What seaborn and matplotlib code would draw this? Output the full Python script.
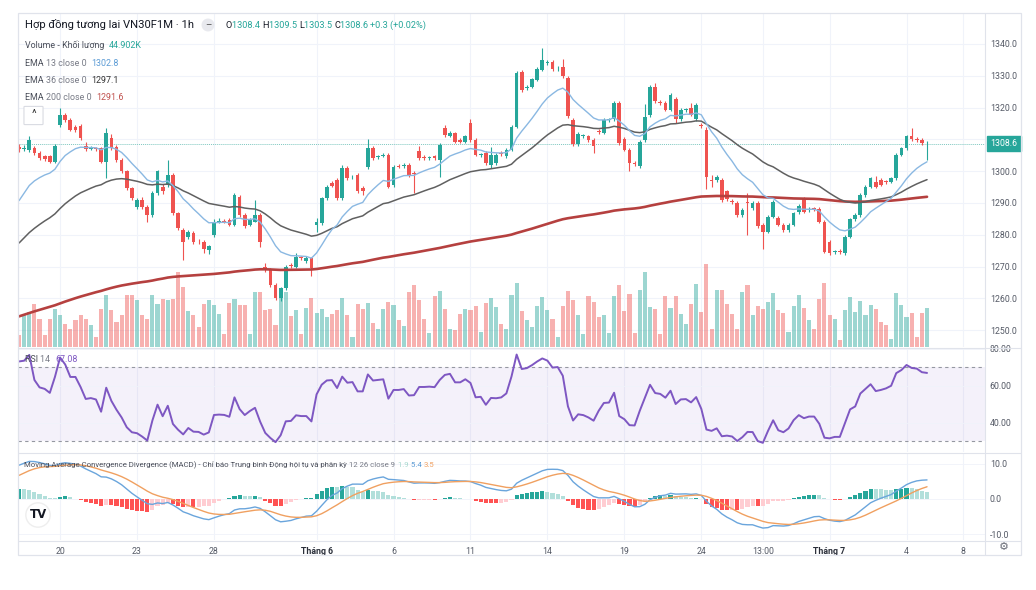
import numpy as np
import pandas as pd
import matplotlib
matplotlib.use("Agg")
import matplotlib.pyplot as plt
import seaborn as sns
from matplotlib.patches import Rectangle, FancyBboxPatch
from matplotlib.lines import Line2D

# ---------------- data ----------------
opens = [1307.5,1307.0,1306.7,1307.2,1305.6,1304.6,1304.6,1303.0,1314.5,1317.7,
         1316.1,1314.0,1314.2,1307.9,1307.0,1307.2,1307.2,1303.0,1310.4,1307.7,
         1303.5,1299.9,1294.6,1288.8,1290.9,1288.8,1286.2,1293.0,1295.1,1295.7,
         1298.8,1286.8,1281.5,1279.4,1280.5,1277.8,1277.8,1275.2,1280.0,1284.1,
         1284.3,1284.7,1283.1,1292.0,1286.2,1283.1,1284.1,1286.2,1270.0,1268.9,
         1264.2,1260.0,1263.1,1270.5,1270.0,1272.9,1271.8,1272.6,1283.1,1283.6,
         1291.5,1296.4,1297.2,1291.5,1300.9,1298.0,1298.8,1294.6,1301.4,1307.2,
         1304.3,1304.9,1305.1,1295.7,1301.6,1301.6,1302.0,1299.3,1306.2,1304.3,
         1304.1,1304.6,1303.5,1313.5,1311.1,1311.9,1309.8,1309.3,1315.1,1309.8,
         1305.0,1305.6,1302.0,1302.5,1305.6,1304.6,1306.7,1314.0,1331.3,1326.1,
         1326.6,1328.7,1331.9,1334.0,1334.2,1332.3,1332.7,1329.2,1316.1,1308.6,
         1311.0,1310.9,1309.8,1312.6,1312.1,1316.1,1316.3,1321.4,1310.0,1306.7,
         1302.5,1301.6,1309.8,1317.7,1326.6,1321.8,1321.4,1319.3,1322.6,1316.3,
         1319.3,1319.8,1316.3,1314.5,1313.0,1297.2,1297.2,1297.2,1293.6,1290.6,
         1290.1,1286.2,1290.2,1288.3,1289.9,1283.1,1281.0,1285.7,1285.2,1283.1,
         1281.5,1283.1,1287.0,1291.2,1287.8,1288.1,1288.0,1284.1,1277.8,1274.5,
         1274.9,1274.2,1279.4,1284.9,1286.2,1292.5,1295.1,1296.7,1297.2,1296.7,
         1296.7,1297.8,1305.1,1307.2,1310.9,1310.0,1309.8,1308.4]
highs = [1308.5,1308.2,1311.0,1307.8,1306.2,1305.2,1305.1,1308.4,1319.8,1318.3,
         1316.6,1314.6,1314.8,1309.2,1307.8,1307.7,1307.7,1313.4,1311.7,1308.2,
         1304.0,1300.4,1295.1,1291.5,1291.8,1289.4,1293.6,1300.5,1295.8,1303.5,
         1299.4,1287.3,1282.2,1281.6,1281.2,1278.6,1278.4,1276.8,1284.8,1285.2,
         1284.9,1285.3,1293.2,1292.6,1286.8,1285.2,1291.0,1286.8,1271.0,1269.4,
         1264.7,1263.6,1270.6,1271.0,1274.3,1273.4,1273.2,1273.1,1285.2,1292.0,
         1295.7,1297.0,1297.8,1302.0,1301.5,1298.8,1299.4,1295.2,1310.0,1307.8,
         1305.0,1305.6,1305.7,1302.0,1302.2,1302.6,1302.6,1299.9,1308.0,1305.0,
         1304.8,1305.2,1308.8,1314.6,1312.6,1312.4,1310.4,1311.4,1316.5,1310.4,
         1305.8,1306.2,1307.5,1305.6,1306.2,1307.2,1314.5,1331.5,1331.9,1327.0,
         1329.4,1332.6,1338.6,1335.0,1334.8,1333.0,1335.4,1329.8,1316.7,1312.2,
         1311.8,1311.5,1310.4,1313.2,1316.6,1316.8,1322.0,1322.0,1310.6,1307.3,
         1303.2,1309.8,1321.0,1327.2,1327.6,1322.4,1322.0,1324.6,1323.2,1319.8,
         1320.0,1321.4,1321.4,1315.2,1314.0,1298.7,1298.8,1297.8,1294.2,1291.2,
         1290.7,1288.4,1293.0,1290.5,1290.5,1283.7,1286.2,1291.0,1285.8,1283.7,
         1283.6,1287.3,1289.6,1291.8,1288.6,1288.8,1288.6,1284.7,1278.4,1275.2,
         1275.4,1279.9,1285.4,1286.7,1293.0,1295.6,1298.3,1298.4,1297.8,1297.3,
         1298.3,1305.6,1307.7,1311.4,1313.5,1310.8,1310.5,1309.5]
lows = [1306.0,1306.3,1306.0,1305.0,1303.6,1303.2,1302.5,1302.6,1314.0,1315.5,
        1312.5,1312.4,1309.8,1306.4,1306.5,1306.3,1302.5,1297.8,1306.6,1303.0,
        1299.4,1294.0,1290.9,1288.0,1288.2,1284.0,1285.6,1292.5,1292.8,1295.0,
        1286.2,1281.4,1272.0,1278.8,1277.2,1277.0,1274.2,1273.8,1279.4,1283.6,
        1283.6,1282.6,1282.6,1285.6,1282.0,1282.6,1284.1,1276.2,1268.4,1263.6,
        1259.5,1259.2,1262.6,1269.4,1269.5,1272.0,1271.0,1267.0,1281.0,1283.0,
        1291.0,1295.0,1290.9,1291.0,1297.2,1297.4,1293.0,1292.4,1300.8,1303.6,
        1303.8,1304.4,1294.6,1295.1,1300.9,1301.0,1298.3,1293.0,1303.6,1303.6,
        1303.5,1303.6,1298.0,1310.8,1310.6,1308.8,1308.8,1308.8,1309.2,1304.6,
        1304.4,1302.0,1300.9,1302.0,1304.8,1304.1,1306.2,1313.5,1325.0,1325.5,
        1326.0,1328.2,1331.4,1333.4,1331.6,1331.6,1329.3,1316.6,1308.0,1308.0,
        1310.4,1309.2,1305.8,1311.8,1311.6,1315.5,1315.8,1308.2,1306.2,1300.0,
        1301.6,1301.0,1309.2,1317.0,1321.4,1320.8,1318.8,1318.8,1315.0,1315.8,
        1318.6,1317.2,1315.8,1313.4,1294.5,1295.0,1296.6,1290.4,1290.6,1289.6,
        1285.6,1285.6,1280.0,1287.8,1282.0,1275.4,1280.4,1285.2,1282.6,1281.0,
        1281.0,1282.6,1286.5,1286.8,1287.2,1287.4,1283.6,1274.2,1273.6,1273.9,
        1274.0,1273.6,1278.9,1284.4,1285.7,1292.0,1294.6,1294.6,1295.2,1296.0,
        1296.2,1297.3,1304.6,1306.7,1309.5,1309.2,1308.3,1303.5]
closes = [1307.0,1307.3,1309.8,1305.6,1304.1,1303.8,1303.0,1307.9,1317.7,1316.1,
          1313.0,1313.0,1310.4,1306.9,1307.2,1306.8,1303.0,1311.9,1307.2,1303.5,
          1299.9,1294.6,1291.5,1290.9,1288.8,1286.2,1293.0,1299.9,1293.6,1298.8,
          1286.8,1282.0,1277.8,1280.9,1277.8,1277.6,1275.4,1276.3,1284.1,1284.3,
          1284.1,1283.1,1292.5,1286.2,1282.6,1284.6,1286.2,1277.8,1268.9,1264.2,
          1260.0,1263.1,1270.0,1270.2,1273.1,1272.6,1272.6,1269.4,1284.1,1291.5,
          1295.1,1295.4,1291.5,1300.9,1297.8,1298.3,1293.6,1293.6,1307.2,1304.1,
          1304.6,1305.1,1295.1,1301.4,1301.4,1302.0,1298.8,1299.0,1304.1,1304.1,
          1304.3,1304.1,1308.2,1311.4,1312.1,1309.3,1309.3,1310.9,1309.8,1305.1,
          1305.3,1302.5,1305.1,1305.0,1305.3,1306.7,1314.0,1330.8,1325.6,1326.4,
          1328.9,1332.1,1335.0,1334.3,1332.1,1332.5,1329.8,1317.2,1308.6,1311.7,
          1311.2,1309.8,1307.9,1312.3,1316.1,1316.3,1321.4,1308.8,1306.7,1302.5,
          1302.3,1309.3,1317.0,1326.6,1321.9,1321.4,1319.3,1324.0,1316.3,1319.3,
          1319.5,1317.7,1320.8,1314.2,1298.3,1297.0,1298.3,1290.9,1291.2,1290.4,
          1286.2,1287.8,1290.0,1289.9,1282.6,1281.0,1285.7,1290.4,1283.1,1281.5,
          1283.1,1286.8,1289.1,1287.3,1288.0,1288.0,1284.1,1274.7,1274.2,1274.7,
          1274.7,1279.4,1284.9,1286.2,1292.5,1295.1,1297.8,1295.1,1295.7,1296.5,
          1297.8,1305.1,1307.2,1310.9,1310.0,1309.8,1308.8,1308.6]
volumes_k = [13.8,38.0,40.3,49.5,32.2,13.8,32.2,43.7,36.8,26.5,
             20.7,31.0,36.8,32.2,25.3,11.5,43.7,59.8,42.6,28.8,
             36.8,59.8,59.8,54.0,36.8,32.2,59.8,49.5,55.2,54.0,
             55.2,86.3,69.0,41.4,36.8,23.0,49.5,54.0,48.3,38.0,
             15.0,50.6,55.2,48.3,48.3,15.0,63.3,63.3,42.6,43.7,
             25.3,57.5,63.3,35.7,42.6,15.0,44.9,56.4,39.0,43.7,
             34.5,38.0,42.6,56.4,36.8,11.5,49.5,43.7,50.6,27.6,
             20.7,43.7,51.8,48.3,31.0,24.2,63.3,71.3,54.0,32.2,
             16.1,58.7,64.4,43.7,20.7,19.6,38.0,43.7,42.6,47.2,
             17.3,50.6,56.4,46.0,26.5,20.7,59.8,73.6,41.4,31.0,
             23.0,47.2,57.5,42.6,32.2,11.5,47.2,64.4,54.0,36.8,
             15.0,58.7,51.8,34.5,36.8,16.1,58.7,71.3,41.4,61.0,
             16.1,65.6,86.3,46.0,43.7,15.0,58.7,44.9,58.7,38.0,
             26.5,49.5,72.5,40.3,95.5,20.7,65.6,65.6,49.5,38.0,
             20.7,63.3,71.3,36.8,47.2,43.7,51.8,62.1,42.6,39.0,
             17.3,47.2,59.8,44.9,31.0,20.7,55.2,73.6,36.8,32.2,
             8.1,42.6,57.5,40.3,52.9,36.8,48.3,43.7,28.8,25.3,
             9.2,62.1,48.3,34.5,39.0,11.5,39.0,44.9]

# indicator seeds read at the first visible bar
ema13_seed, ema36_seed, ema200_seed = 1288.0, 1275.7, 1253.8
ema12_seed, ema26_seed, signal_seed = 1288.5, 1279.7, 6.0
rsi_prev_close, rsi_gain_seed, rsi_loss_seed = 1307.5, 1.2, 0.4

# axis labels
date_ticks = [8, 23, 38, 58, 73, 88, 103, 118, 133, 145, 158, 173, 184]
date_labels = ["20", "23", "28", "Tháng 6", "6", "11", "14", "19", "24", "13:00", "Tháng 7", "4", "8"]
price_ticks = [1250, 1260, 1270, 1280, 1290, 1300, 1310, 1320, 1330, 1340]
rsi_ticks = [40, 60, 80]
macd_ticks = [-10, 0, 10]

# ---------------- indicators ----------------
def ema(vals, n, seed):
    a = 2.0 / (n + 1)
    out, prev = [], seed
    for v in vals:
        prev = prev + a * (v - prev)
        out.append(prev)
    return np.array(out)

def rsi(vals, n, prev_close, g0, l0):
    g, l, p = g0, l0, prev_close
    out = []
    for v in vals:
        ch = v - p
        g = (g * (n - 1) + max(ch, 0)) / n
        l = (l * (n - 1) + max(-ch, 0)) / n
        out.append(100 - 100 / (1 + g / l))
        p = v
    return np.array(out)

c = np.array(closes)
o = np.array(opens)
idx = np.arange(len(c))
ema13 = ema(c, 13, ema13_seed)
ema36 = ema(c, 36, ema36_seed)
ema200 = ema(c, 200, ema200_seed)
rsi14 = rsi(c, 14, rsi_prev_close, rsi_gain_seed, rsi_loss_seed)
macd = ema(c, 12, ema12_seed) - ema(c, 26, ema26_seed)
signal = ema(macd, 9, signal_seed)
hist = macd - signal

df = pd.DataFrame({"i": idx, "ema13": ema13, "ema36": ema36, "ema200": ema200,
                   "rsi": rsi14, "macd": macd, "signal": signal})

# ---------------- styling ----------------
sns.set_theme(style="white")
plt.rcParams["font.family"] = ["Roboto", "DejaVu Sans"]

W, H = 1036, 590
fig = plt.figure(figsize=(W / 100, H / 100), dpi=100)
fig.patch.set_facecolor("white")

def fx(x):
    return x / W

def fy(y):
    return 1 - y / H

L, R = 18, 985
ax = fig.add_axes([fx(L), fy(347), fx(R - L), (347 - 14) / H])
ax_r = fig.add_axes([fx(L), fy(452), fx(R - L), (452 - 348) / H])
ax_m = fig.add_axes([fx(L), fy(540), fx(R - L), (540 - 453) / H])

UP, DN = "#26a69a", "#ef5350"
GRID = "#f0f3fa"
TXT = "#131722"
GRAY = "#787b86"
xlim = (-0.2, 188.3)

for a in (ax, ax_r, ax_m):
    a.set_xlim(*xlim)
    for s in a.spines.values():
        s.set_visible(False)
    a.set_facecolor("none")
    a.tick_params(axis="both", length=0, labelsize=6.3, colors="#555a66")
    for t in date_ticks:
        a.axvline(t, color=GRID, lw=0.8, zorder=0)
    a.yaxis.tick_right()

# main pane
ax.set_ylim(1244.7, 1349.4)
for p in price_ticks:
    ax.axhline(p, color=GRID, lw=0.8, zorder=0)
up = c >= o
vcol = np.where(up, UP, DN)
ax.bar(idx, np.array(volumes_k) / 383.0, width=0.8, bottom=0, color=vcol, alpha=0.45,
       transform=ax.get_xaxis_transform(), zorder=1, linewidth=0)
ax.vlines(idx, lows, highs, colors=vcol, lw=0.8, zorder=3)
body_lo = np.minimum(o, c)
body_h = np.maximum(np.abs(c - o), 0.25)
ax.bar(idx, body_h, bottom=body_lo, width=0.72, color=vcol, linewidth=0, zorder=3)
sns.lineplot(data=df, x="i", y="ema200", ax=ax, color="#b5403f", lw=1.9, zorder=4)
sns.lineplot(data=df, x="i", y="ema36", ax=ax, color="#606060", lw=1.1, zorder=4)
sns.lineplot(data=df, x="i", y="ema13", ax=ax, color="#8ab8e2", lw=1.0, zorder=4)
ax.axhline(closes[-1], color="#7fc8c0", lw=0.7, ls=(0, (1, 1)), zorder=2)
# the 1310.0 tick label is hidden behind the last-price tag in the reference
shown_ticks = [p for p in price_ticks if abs(p - closes[-1]) > 3]
ax.set_yticks(shown_ticks)
ax.set_yticklabels([f"{p:.1f}" for p in shown_ticks])
ax.set_xticks([])
ax.set_xlabel(""); ax.set_ylabel("")
ax.annotate(f"{closes[-1]:.1f}", xy=(1.0, closes[-1]), xycoords=("axes fraction", "data"),
            xytext=(4, 0), textcoords="offset points", ha="left", va="center",
            fontsize=6.3, color="white",
            bbox=dict(boxstyle="square,pad=0.35", fc=UP, ec=UP))

# RSI pane
ax_r.set_ylim(24.3, 80.5)
ax_r.axhspan(30, 70, color="#7e57c2", alpha=0.08, lw=0, zorder=0)
ax_r.axhline(70, color="#9598a1", lw=0.8, ls=(0, (3, 3)), zorder=1)
ax_r.axhline(30, color="#9598a1", lw=0.8, ls=(0, (3, 3)), zorder=1)
for p in rsi_ticks:
    ax_r.axhline(p, color=GRID, lw=0.6, zorder=0)
sns.lineplot(data=df, x="i", y="rsi", ax=ax_r, color="#7e57c2", lw=1.4, zorder=3)
ax_r.set_yticks(rsi_ticks)
ax_r.set_yticklabels([f"{p:.2f}" for p in rsi_ticks])
ax_r.set_xticks([])
ax_r.set_xlabel(""); ax_r.set_ylabel("")

# MACD pane
ax_m.set_ylim(-11.7, 13.1)
for p in macd_ticks:
    ax_m.axhline(p, color=GRID, lw=0.6, zorder=0)
hcol = []
prev = 0.0
for h in hist:
    if h >= 0:
        hcol.append("#26a69a" if h > prev else "#b2dfdb")
    else:
        hcol.append("#ff5252" if h < prev else "#ffcdd2")
    prev = h
ax_m.bar(idx, hist, width=0.8, color=hcol, linewidth=0, zorder=1)
sns.lineplot(data=df, x="i", y="macd", ax=ax_m, color="#6aa5dc", lw=1.0, zorder=3)
sns.lineplot(data=df, x="i", y="signal", ax=ax_m, color="#f0a060", lw=1.0, zorder=3)
ax_m.set_yticks(macd_ticks)
ax_m.set_yticklabels([f"{p:.1f}" for p in macd_ticks])
ax_m.set_xticks(date_ticks)
ax_m.set_xticklabels(date_labels)
ax_m.tick_params(axis="x", pad=5)
for lab in ax_m.get_xticklabels():
    if lab.get_text().startswith("Tháng"):
        lab.set_fontweight("bold")
        lab.set_color("#2a2e39")
ax_m.set_xlabel(""); ax_m.set_ylabel("")

# frame / separators
fc = "#e0e3eb"
for y in (347.5, 452.5, 540.5):
    fig.add_artist(Line2D([fx(L), fx(1021)], [fy(y), fy(y)], color=fc, lw=0.8))
fig.add_artist(Line2D([fx(R), fx(R)], [fy(13), fy(555)], color=fc, lw=0.8))
fig.add_artist(Rectangle((fx(L), fy(555)), fx(1021 - L), (555 - 13) / H, fill=False,
                         ec=fc, lw=0.9))

# legend texts
renderer = fig.canvas.get_renderer()

def seq(x, y, pieces, size):
    for s, col, wt in pieces:
        t = fig.text(fx(x), fy(y), s, color=col, fontsize=size, fontweight=wt,
                     ha="left", va="center")
        x += t.get_window_extent(renderer).width

seq(25, 25, [("Hợp đồng tương lai VN30F1M · 1h", TXT, "normal")], 8.1)
fig.text(fx(208), fy(25), "–", fontsize=7, color="#555", ha="center", va="center",
         bbox=dict(boxstyle="circle,pad=0.15", fc="#e8e9ee", ec="none"))
seq(226, 25, [("O", TXT, "normal"), ("1308.4 ", UP, "normal"), ("H", TXT, "normal"),
              ("1309.5 ", UP, "normal"), ("L", TXT, "normal"), ("1303.5 ", UP, "normal"),
              ("C", TXT, "normal"), ("1308.6 ", UP, "normal"), ("+0.3 (+0.02%)", UP, "normal")], 6.6)
seq(25, 45, [("Volume - Khối lượng  ", "#4a4e59", "normal"), ("44.902K", UP, "normal")], 6.4)
seq(25, 64, [("EMA ", "#4a4e59", "normal"), ("13 close 0  ", GRAY, "normal"), ("1302.8", "#5b9bd5", "normal")], 6.4)
seq(25, 81, [("EMA ", "#4a4e59", "normal"), ("36 close 0  ", GRAY, "normal"), ("1297.1", "#333333", "normal")], 6.4)
seq(25, 98, [("EMA ", "#4a4e59", "normal"), ("200 close 0  ", GRAY, "normal"), ("1291.6", "#c0504d", "normal")], 6.4)
fig.add_artist(FancyBboxPatch((fx(25), fy(124)), fx(17), 17 / H, boxstyle="round,pad=0.001",
                              fc="white", ec="#d9dbe2", lw=0.8))
fig.text(fx(33.5), fy(114), "^", fontsize=8, color="#333", ha="center", va="center")

seq(25, 360, [("RSI ", "#4a4e59", "normal"), ("14  ", GRAY, "normal"), ("67.08", "#7e57c2", "normal")], 6.4)
seq(24, 465, [("Moving Average Convergence Divergence (MACD) - Chỉ báo Trung bình Động hội tụ và phân kỳ ", "#4a4e59", "normal"),
              ("12 26 close 9  ", GRAY, "normal"), ("1.9 ", "#a8d8cf", "normal"),
              ("5.4 ", "#5b9bd5", "normal"), ("3.5", "#f0a060", "normal")], 5.6)

fig.text(fx(38), fy(515), "TV", fontsize=8.5, fontweight="black", color="#131722",
         ha="center", va="center", family="DejaVu Sans",
         bbox=dict(boxstyle="circle,pad=0.3", fc="white", ec="#eeeeee"))
fig.text(fx(1004), fy(547), "⚙", fontsize=8, color="#6a6d78", ha="center", va="center",
         family="DejaVu Sans")

fig.savefig("out.png", dpi=100, facecolor="white")
